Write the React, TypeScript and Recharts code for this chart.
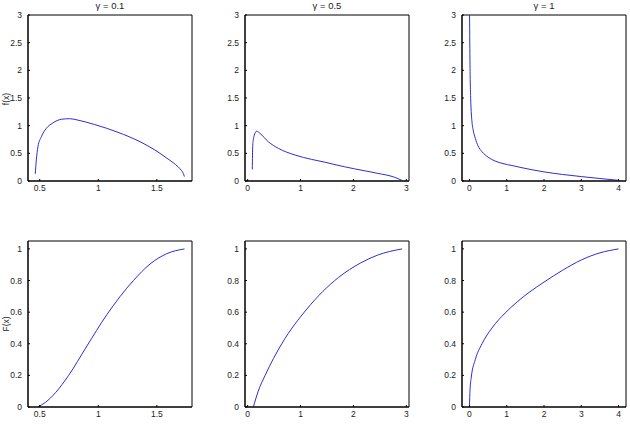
import React from 'react';
import { LineChart, Line, XAxis, YAxis, ReferenceArea } from 'recharts';

// density f(x)
const f1X = [0.462, 0.471, 0.485, 0.514, 0.556, 0.613, 0.684, 0.756, 0.827, 0.969, 1.168, 1.356, 1.527, 1.58, 1.64, 1.68, 1.71, 1.725, 1.735];
const f1Y = [0.13, 0.38, 0.62, 0.8, 0.95, 1.05, 1.115, 1.126, 1.1, 1.02, 0.88, 0.71, 0.5, 0.42, 0.33, 0.26, 0.19, 0.14, 0.08];
const f2X = [0.088, 0.095, 0.11, 0.126, 0.17, 0.234, 0.39, 0.58, 0.895, 1.21, 1.46, 1.63, 2.02, 2.45, 2.77, 2.92];
const f2Y = [0.21, 0.62, 0.76, 0.83, 0.9, 0.86, 0.71, 0.59, 0.47, 0.39, 0.34, 0.3, 0.22, 0.14, 0.07, 0.01];
const f3X = [0.003, 0.015, 0.033, 0.068, 0.1, 0.157, 0.23, 0.337, 0.5, 0.69, 0.9, 1.14, 1.41, 1.7, 2.0, 2.5, 3.0, 3.5, 4.0];
const f3Y = [3.0, 2.1, 1.49, 1.07, 0.92, 0.77, 0.635, 0.53, 0.43, 0.36, 0.315, 0.28, 0.24, 0.2, 0.165, 0.118, 0.08, 0.045, 0.012];

// distribution F(x), bottom row
const F1X = [0.483, 0.55, 0.634, 0.747, 0.898, 1.074, 1.3, 1.443, 1.585, 1.736];
const F1Y = [0, 0.03, 0.09, 0.2, 0.38, 0.585, 0.8, 0.905, 0.97, 1.0];
const F2X = [0.108, 0.2, 0.33, 0.645, 1.12, 1.72, 2.13, 2.45, 2.92];
const F2Y = [0, 0.1, 0.2, 0.4, 0.62, 0.82, 0.91, 0.96, 1.0];
const F3X = [0, 0.015, 0.05, 0.157, 0.337, 0.605, 0.96, 1.28, 1.6, 2.0, 2.5, 3.0, 3.5, 4.0];
const F3Y = [0, 0.107, 0.19, 0.3, 0.4, 0.5, 0.595, 0.665, 0.725, 0.79, 0.865, 0.93, 0.975, 1.0];

const titles = ['γ = 0.1', 'γ = 0.5', 'γ = 1'];
const xTicks1 = [0.5, 1, 1.5];
const xTicks2 = [0, 1, 2, 3];
const xTicks3 = [0, 1, 2, 3, 4];
const topYTicks = [0, 0.5, 1, 1.5, 2, 2.5, 3];
const bottomYTicks = [0, 0.2, 0.4, 0.6, 0.8, 1];

const PLOT_W = 164;
const PLOT_H = 166;
const YW = 28;
const XH = 20;
const MT = 15;
const MR = 4;
const FONT = '"Liberation Sans", Arial, sans-serif';
const tickStyle = { fill: '#222', fontSize: 8.5, fontFamily: FONT };

function Panel({ left, top, xs, ys, xDomain, xTicks, yDomain, yTicks }: any) {
  const data = xs.map((x: number, i: number) => ({ x, y: ys[i] }));
  return (
    <div style={{ position: 'absolute', left: left - YW, top: top - MT }}>
      <LineChart
        width={YW + PLOT_W + MR}
        height={MT + PLOT_H + XH}
        data={data}
        margin={{ top: MT, right: MR, bottom: 0, left: 0 }}
      >
        <XAxis xAxisId="b" type="number" dataKey="x" domain={xDomain} ticks={xTicks} allowDataOverflow
          height={XH} tickSize={-2} tickMargin={6} stroke="#000" tick={tickStyle} interval={0} />
        <XAxis xAxisId="t" orientation="top" type="number" dataKey="x" domain={xDomain} ticks={xTicks} allowDataOverflow
          height={0} tickSize={-2} tick={false} stroke="#000" interval={0} />
        <YAxis yAxisId="l" type="number" domain={yDomain} ticks={yTicks} allowDataOverflow
          width={YW} tickSize={-2} tickMargin={8} stroke="#000" tick={tickStyle} interval={0} />
        <YAxis yAxisId="r" orientation="right" type="number" domain={yDomain} ticks={yTicks} allowDataOverflow
          width={0} tickSize={-2} tick={false} stroke="#000" interval={0} />
        <ReferenceArea xAxisId="b" yAxisId="l" x1={xDomain[0]} x2={xDomain[1]} y1={yDomain[0]} y2={yDomain[1]}
          fill="none" stroke="#000" strokeWidth={1} />
        {/* keeps the top/right axes alive so their inner tick marks get drawn */}
        <Line xAxisId="t" yAxisId="r" dataKey="y" type="monotone" dot={false} stroke="none"
          isAnimationActive={false} />
        <Line xAxisId="b" yAxisId="l" dataKey="y" type="monotone" dot={false} stroke="#2d2dd6" strokeWidth={1}
          isAnimationActive={false} />
      </LineChart>
    </div>
  );
}

const lefts = [28, 245, 462];
const tops = [15, 241];

export default function App() {
  const topRow = [
    { xs: f1X, ys: f1Y, xDomain: [0.4, 1.8], xTicks: xTicks1 },
    { xs: f2X, ys: f2Y, xDomain: [-0.05, 3.05], xTicks: xTicks2 },
    { xs: f3X, ys: f3Y, xDomain: [-0.2, 4.2], xTicks: xTicks3 },
  ];
  const bottomRow = [
    { xs: F1X, ys: F1Y, xDomain: [0.4, 1.8], xTicks: xTicks1 },
    { xs: F2X, ys: F2Y, xDomain: [-0.05, 3.05], xTicks: xTicks2 },
    { xs: F3X, ys: F3Y, xDomain: [-0.2, 4.2], xTicks: xTicks3 },
  ];
  return (
    <div style={{ position: 'absolute', left: 0, top: 0, width: 630, height: 426, overflow: 'hidden', background: '#fff', fontFamily: FONT }}>
      {topRow.map((p, i) => (
        <Panel key={'t' + i} left={lefts[i]} top={tops[0]} {...p} yDomain={[0, 3]} yTicks={topYTicks} />
      ))}
      {bottomRow.map((p, i) => (
        <Panel key={'b' + i} left={lefts[i]} top={tops[1]} {...p} yDomain={[0, 1.05]} yTicks={bottomYTicks} />
      ))}
      {titles.map((t, i) => (
        <div key={t} style={{ position: 'absolute', left: lefts[i], width: PLOT_W, top: 1, textAlign: 'center', fontSize: 9.5, lineHeight: 1, color: '#222' }}>
          {t}
        </div>
      ))}
      <div style={{ position: 'absolute', left: 6, top: 99, fontSize: 8.5, lineHeight: 1, color: '#222', whiteSpace: 'nowrap', transform: 'translate(-50%, -50%) rotate(-90deg)' }}>
        f(x)
      </div>
      <div style={{ position: 'absolute', left: 6, top: 324, fontSize: 8.5, lineHeight: 1, color: '#222', whiteSpace: 'nowrap', transform: 'translate(-50%, -50%) rotate(-90deg)' }}>
        F(x)
      </div>
    </div>
  );
}
